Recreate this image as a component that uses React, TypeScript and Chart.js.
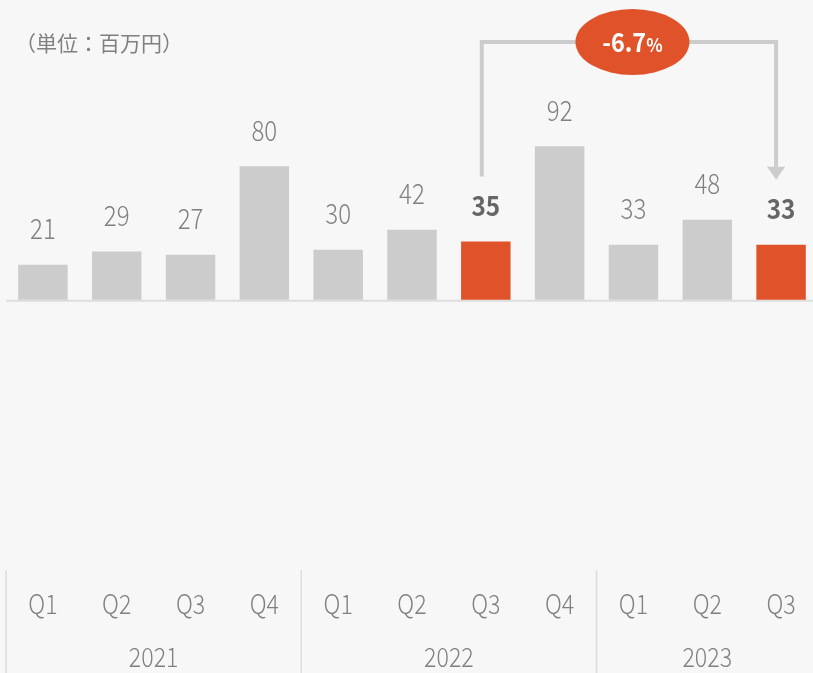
import React, { useEffect, useRef } from "react";
import { Chart, registerables } from "chart.js";

Chart.register(...registerables);

const categories = ["Q1", "Q2", "Q3", "Q4", "Q1", "Q2", "Q3", "Q4", "Q1", "Q2", "Q3"];
const years = ["2021", "2022", "2023"];
const yearGroupSizes = [4, 4, 3];
const values = [21, 29, 27, 80, 30, 42, 35, 92, 33, 48, 33];
const highlightIndices = [6, 10];
const changeValue = "-6.7";
const changeUnit = "%";
const unitLabel = "（単位：百万円）";

const FONT = '"Noto Sans CJK JP", "Noto Sans", sans-serif';
const GRAY_BAR = "#cccccc";
const ORANGE = "#e0532a";
const TEXT = "#808080";
const BG = "#f7f7f7";

function drawCondensed(ctx: CanvasRenderingContext2D, text: string, x: number, y: number, size: number, weight: string, sx: number) {
  ctx.save();
  ctx.translate(x, y);
  ctx.scale(sx, 1);
  ctx.font = `${weight} ${size}px ${FONT}`;
  ctx.textAlign = "center";
  ctx.textBaseline = "middle";
  ctx.fillText(text, 0, 0);
  ctx.restore();
}

export default function App() {
  const canvasRef = useRef<HTMLCanvasElement | null>(null);

  useEffect(() => {
    document.body.style.margin = "0";
    document.body.style.background = BG;
    const canvas = canvasRef.current;
    if (!canvas) return;

    const overlay = {
      id: "overlay",
      beforeDatasetsDraw(chart: any) {
        const ctx = chart.ctx;
        const area = chart.chartArea;
        const y = chart.scales.y;
        const y0 = y.getPixelForValue(0);
        ctx.save();
        ctx.strokeStyle = "#dddddd";
        ctx.lineWidth = 2;
        ctx.beginPath();
        ctx.moveTo(area.left, y0 + 1);
        ctx.lineTo(area.right, y0 + 1);
        ctx.stroke();
        ctx.restore();
      },
      afterDraw(chart: any) {
        const ctx = chart.ctx;
        const x = chart.scales.x;
        const area = chart.chartArea;
        const meta = chart.getDatasetMeta(0);
        ctx.save();

        // unit label
        ctx.fillStyle = TEXT;
        ctx.font = `21px ${FONT}`;
        ctx.textAlign = "left";
        ctx.textBaseline = "middle";
        ctx.fillText(unitLabel, 15, 43);

        // value labels
        meta.data.forEach((bar: any, i: number) => {
          const hl = highlightIndices.includes(i);
          ctx.fillStyle = hl ? "#666666" : TEXT;
          drawCondensed(ctx, String(values[i]), bar.x, bar.y - 36, hl ? 27 : 28, hl ? "bold" : "300", hl ? 0.9 : 0.86);
        });

        // quarter labels
        ctx.fillStyle = TEXT;
        categories.forEach((c, i) => {
          drawCondensed(ctx, c, x.getPixelForValue(i), 604, 27, "300", 0.86);
        });

        // year labels & separators
        const cw = x.getPixelForValue(1) - x.getPixelForValue(0);
        let start = 0;
        years.forEach((yr, gi) => {
          const end = start + yearGroupSizes[gi] - 1;
          const left = x.getPixelForValue(start) - cw / 2;
          const cx = (x.getPixelForValue(start) + x.getPixelForValue(end)) / 2;
          ctx.strokeStyle = "#dddddd";
          ctx.lineWidth = 1.5;
          ctx.beginPath();
          ctx.moveTo(left, area.bottom);
          ctx.lineTo(left, chart.height);
          ctx.stroke();
          ctx.fillStyle = TEXT;
          drawCondensed(ctx, yr, cx, 657, 27, "300", 0.86);
          start = end + 1;
        });

        // bracket annotation
        const a = meta.data[highlightIndices[0]];
        const b = meta.data[highlightIndices[1]];
        const ax = a.x - 4;
        const bx = b.x - 5;
        const topY = 42;
        ctx.strokeStyle = "#cccccc";
        ctx.lineWidth = 4;
        ctx.beginPath();
        ctx.moveTo(ax, a.y - 65);
        ctx.lineTo(ax, topY);
        ctx.lineTo(bx, topY);
        ctx.lineTo(bx, b.y - 78);
        ctx.stroke();
        ctx.fillStyle = "#cccccc";
        ctx.beginPath();
        ctx.moveTo(bx - 9, b.y - 78);
        ctx.lineTo(bx + 9, b.y - 78);
        ctx.lineTo(bx, b.y - 65);
        ctx.closePath();
        ctx.fill();

        // ellipse
        const ex = (a.x + b.x) / 2 - 1;
        ctx.fillStyle = ORANGE;
        ctx.beginPath();
        ctx.ellipse(ex, topY, 57, 33, 0, 0, Math.PI * 2);
        ctx.fill();
        ctx.fillStyle = "#ffffff";
        ctx.textBaseline = "alphabetic";
        ctx.font = `bold 26px ${FONT}`;
        const w1 = ctx.measureText(changeValue).width * 0.9;
        ctx.font = `bold 19px ${FONT}`;
        const w2 = ctx.measureText(changeUnit).width * 0.9;
        const sx = ex - (w1 + w2) / 2;
        ctx.save();
        ctx.translate(sx, topY + 10);
        ctx.scale(0.9, 1);
        ctx.textAlign = "left";
        ctx.font = `bold 26px ${FONT}`;
        ctx.fillText(changeValue, 0, 0);
        ctx.font = `bold 19px ${FONT}`;
        ctx.fillText(changeUnit, w1 / 0.9, 0);
        ctx.restore();

        ctx.restore();
      },
    };

    const chart = new Chart(canvas, {
      type: "bar",
      data: {
        labels: categories,
        datasets: [
          {
            data: values,
            backgroundColor: values.map((_, i) => (highlightIndices.includes(i) ? ORANGE : GRAY_BAR)),
            barPercentage: 0.67,
            categoryPercentage: 1,
          },
        ],
      },
      options: {
        animation: false,
        responsive: true,
        maintainAspectRatio: false,
        layout: { padding: { left: 6, right: 4, top: 133, bottom: 0 } },
        plugins: { legend: { display: false }, tooltip: { enabled: false } },
        scales: {
          x: {
            grid: { display: false },
            border: { display: false },
            ticks: { display: false },
            afterFit: (s: any) => {
              s.height = 103;
            },
          },
          y: {
            display: false,
            min: -162,
            max: 100,
          },
        },
      },
      plugins: [overlay],
    });
    return () => chart.destroy();
  }, []);

  return (
    <div style={{ width: 813, height: 673, overflow: "hidden", background: BG, position: "relative" }}>
      <div style={{ width: 822, height: 673, position: "absolute", left: 0, top: 0 }}>
        <canvas ref={canvasRef} />
      </div>
    </div>
  );
}
